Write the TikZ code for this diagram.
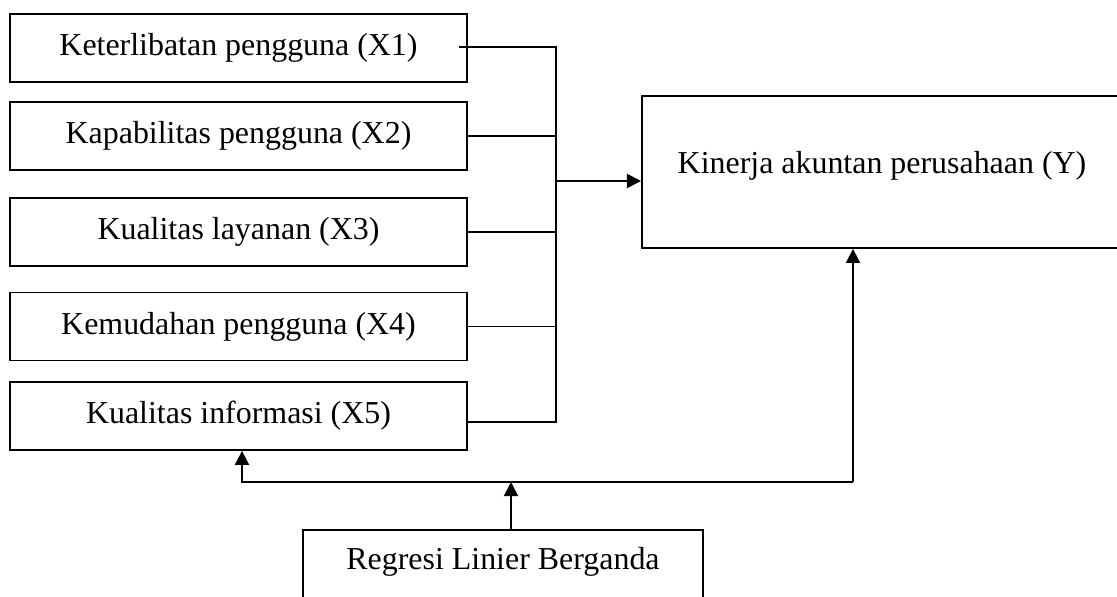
\documentclass[tikz,border=0pt]{standalone}
\usepackage{fontspec}
\setmainfont{Liberation Serif}
\usetikzlibrary{arrows.meta, positioning, calc}

\begin{document}
\begin{tikzpicture}[x=0.025cm, y=-0.025cm,
    varbox/.style={draw, line width=1.3pt, inner sep=0pt, minimum width=11.425cm,
        minimum height=1.7cm, font=\fontsize{22.7}{27}\selectfont},
    link/.style={line width=1.3pt},
    arrow/.style={line width=1.3pt, -{Triangle[width=10pt, length=10pt]}}]
    % Page frame (right and bottom boxes run past it)
    \clip (0, 0) rectangle (1117, 597);
    \fill[white] (0, 0) rectangle (1117, 597);

    % Independent variables
    \node[varbox] (x1) at (238.5, 48) {Keterlibatan pengguna (X1)};
    \node[varbox] (x2) at (238.5, 136) {Kapabilitas pengguna (X2)};
    \node[varbox] (x3) at (238.5, 232) {Kualitas layanan (X3)};
    \node[varbox] (x4) at (238.5, 326.5) {Kemudahan pengguna (X4)};
    \node[varbox] (x5) at (238.5, 416) {Kualitas informasi (X5)};

    % Dependent variable
    \node[varbox, minimum width=12cm, minimum height=3.8cm, text height=0.55cm, text depth=0.45cm]
        (y) at (882, 172) {Kinerja akuntan perusahaan (Y)};

    % Analysis method
    \node[varbox, minimum width=10cm, minimum height=1.75cm, text height=0.55cm, text depth=0.35cm]
        (reg) at (503, 565) {Regresi Linier Berganda};

    % Collecting bus
    \coordinate (b1) at (556, 47);
    \coordinate (b5) at (556, 422);
    \coordinate (bm) at (556, 181);
    \draw[link] ([xshift=-0.225cm]x1.east |- b1) -- (b1) -- (b5) -- (x5.east |- b5);
    \draw[link] (x2.east) -- (x2.east -| b1);
    \draw[link] (x3.east) -- (x3.east -| b1);
    \draw[link] (x4.east) -- (x4.east -| b1);
    \draw[arrow] (bm) -- (bm -| y.west);

    % Regression feeds both sides
    \coordinate (bl) at (242, 482);
    \coordinate (br) at (853, 482);
    \coordinate (rt) at (511, 482);
    \draw[arrow] (br) -- (bl) -- (bl |- x5.south);
    \draw[arrow] (br) -- (br |- y.south);
    \draw[arrow] (rt |- reg.north) -- (rt);
\end{tikzpicture}
\end{document}
